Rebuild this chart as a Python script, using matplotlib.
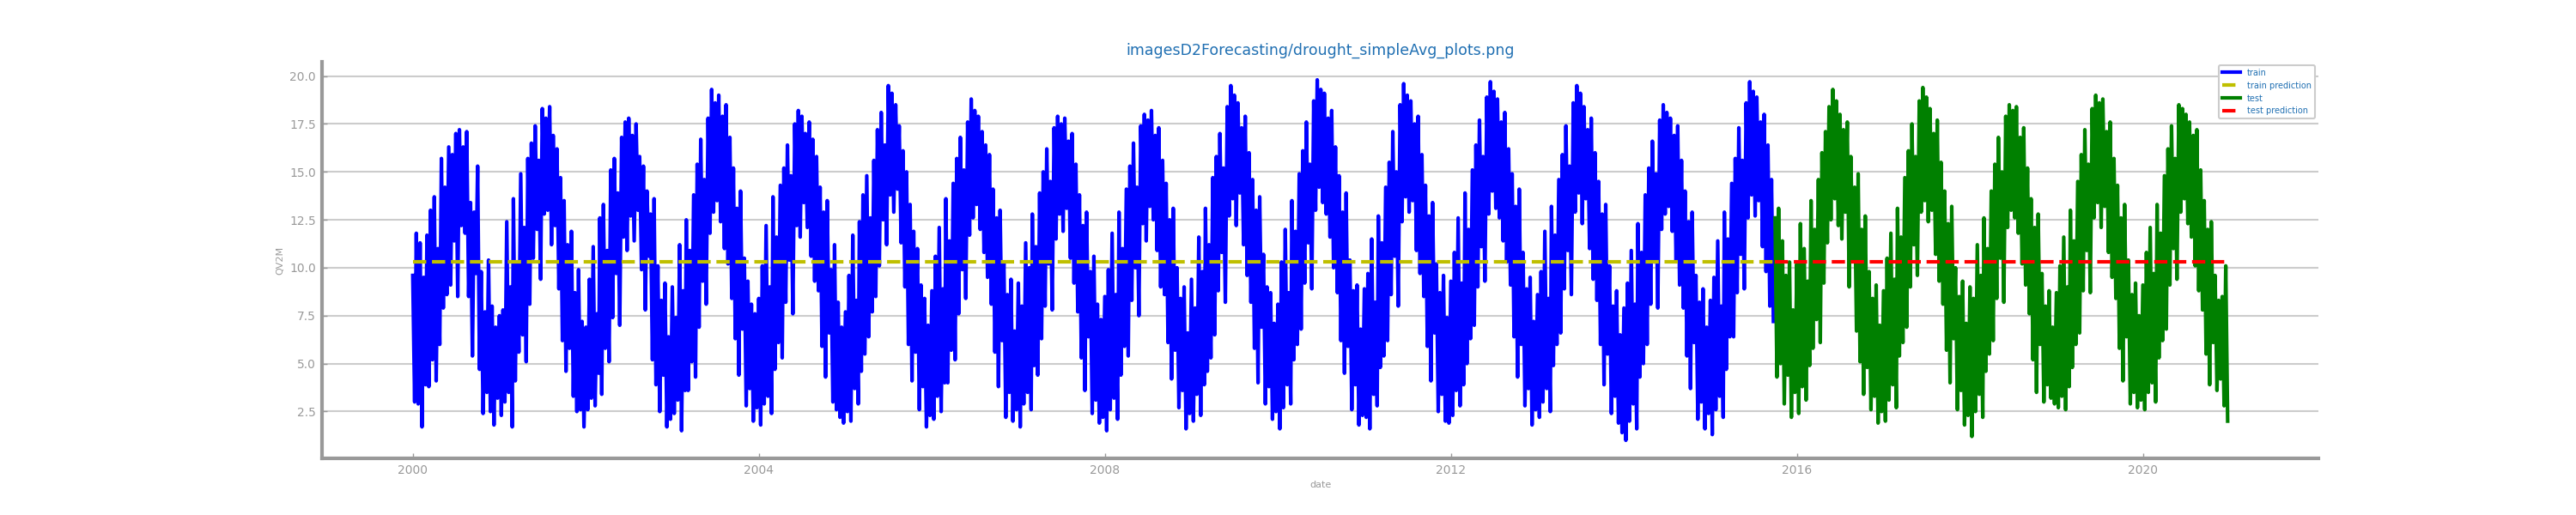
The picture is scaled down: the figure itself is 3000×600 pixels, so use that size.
#!/usr/bin/env python3
"""Simple-average forecast of QV2M: train/test series with flat predictions."""
import matplotlib
matplotlib.use("Agg")
import matplotlib.pyplot as plt
import matplotlib.dates as mdates
import numpy as np
import pandas as pd

TITLE = "imagesD2Forecasting/drought_simpleAvg_plots.png"
TEXT_BLUE = "#1f6fb2"
GREY = "#999999"

# four samples per month, 2000-01 .. 2020-12
YEARS = list(range(2000, 2021))
SAMPLE_DAYS = [1, 9, 16, 24]
N_TRAIN = 756  # up to 2015-09-24, the rest is test

# QV2M, one row per year (Jan..Jun / Jul..Dec)
qv2m_train = [
    9.6, 3.0, 11.8, 2.9, 11.3, 1.7, 9.5, 3.9, 11.7, 3.8, 13.0, 5.2, 13.7, 4.1, 11.0, 6.0, 15.7, 7.9, 14.2, 8.6, 16.3, 9.1, 15.9, 11.4,
    17.0, 8.5, 17.2, 12.2, 16.3, 11.8, 17.1, 8.5, 13.4, 5.4, 12.9, 9.7, 15.3, 4.7, 9.8, 2.4, 7.7, 3.5, 10.4, 2.5, 8.0, 1.8, 6.9, 3.2,  # 2000
    7.5, 2.3, 7.8, 3.0, 12.4, 3.5, 9.0, 1.7, 13.6, 4.1, 10.2, 5.6, 14.9, 6.5, 12.1, 5.1, 15.7, 8.1, 16.5, 10.5, 17.4, 12.0, 15.6, 9.4,
    18.3, 12.8, 17.8, 13.0, 18.4, 11.2, 16.9, 12.2, 16.2, 8.9, 14.7, 6.2, 13.5, 4.6, 11.2, 5.8, 11.9, 3.3, 8.7, 2.5, 9.9, 2.6, 7.2, 1.7,  # 2001
    6.9, 2.6, 9.4, 3.2, 11.1, 2.8, 7.6, 4.5, 12.6, 3.4, 13.3, 5.8, 10.9, 5.1, 15.1, 7.4, 15.7, 9.7, 13.9, 7.0, 16.8, 11.6, 17.6, 10.9,
    17.8, 12.7, 16.9, 11.4, 17.5, 13.0, 15.8, 9.9, 15.3, 7.8, 14.0, 10.6, 12.8, 5.2, 13.6, 3.9, 10.1, 2.5, 8.3, 4.4, 9.2, 1.7, 6.4, 2.1,  # 2002
    9.0, 2.4, 7.4, 3.1, 11.2, 1.5, 8.8, 3.6, 12.5, 3.6, 10.9, 5.1, 13.8, 4.3, 15.4, 6.9, 16.7, 9.3, 14.6, 8.1, 17.8, 11.8, 19.3, 12.9,
    18.6, 13.5, 19.0, 12.4, 17.9, 11.0, 18.5, 10.2, 16.8, 8.4, 15.2, 6.3, 13.1, 4.4, 14.0, 6.8, 10.5, 2.8, 9.3, 3.7, 8.1, 2.0, 7.6, 2.7,  # 2003
    8.4, 1.8, 10.1, 2.9, 12.2, 3.3, 9.0, 2.4, 13.7, 4.7, 11.6, 6.1, 14.3, 5.3, 15.2, 8.2, 16.4, 10.4, 14.8, 7.6, 17.5, 12.2, 18.2, 11.6,
    17.9, 13.4, 17.0, 12.1, 17.6, 10.6, 16.7, 9.3, 15.8, 8.8, 14.2, 5.9, 12.9, 4.3, 13.5, 6.6, 9.9, 3.0, 11.2, 2.6, 8.2, 2.2, 6.9, 1.9,  # 2004
    7.7, 2.5, 9.6, 2.0, 11.7, 3.7, 8.3, 2.9, 12.4, 4.6, 13.8, 5.5, 14.8, 6.4, 12.6, 7.7, 15.6, 8.5, 17.2, 10.1, 18.1, 12.5, 16.4, 11.2,
    19.5, 13.8, 19.1, 12.9, 18.5, 14.1, 17.4, 11.3, 16.1, 9.0, 15.0, 6.0, 13.3, 4.1, 11.9, 5.6, 11.0, 2.6, 9.1, 3.8, 8.4, 1.7, 7.0, 2.3,  # 2005
    8.8, 2.1, 10.6, 3.3, 12.1, 2.5, 8.9, 4.0, 13.6, 4.0, 11.4, 5.7, 14.4, 5.2, 15.7, 7.6, 16.8, 9.9, 15.1, 8.4, 17.6, 11.7, 18.8, 12.6,
    18.2, 13.3, 17.9, 12.0, 17.1, 10.8, 16.4, 9.5, 15.9, 8.1, 14.1, 5.6, 12.6, 3.8, 13.0, 6.2, 10.3, 2.2, 8.6, 3.5, 9.4, 2.0, 6.7, 2.6,  # 2006
    9.2, 1.7, 8.0, 2.9, 11.3, 3.5, 10.0, 2.6, 12.8, 4.9, 11.1, 4.4, 13.9, 6.3, 15.0, 8.0, 16.2, 10.2, 14.5, 7.8, 17.3, 11.5, 17.9, 12.8,
    17.5, 11.9, 17.8, 13.1, 16.6, 10.5, 17.0, 9.2, 15.4, 7.7, 13.8, 5.3, 12.2, 3.6, 12.9, 6.4, 9.8, 2.4, 10.6, 3.1, 8.1, 1.9, 7.3, 2.2,  # 2007
    8.5, 1.5, 9.9, 2.6, 11.8, 3.2, 8.6, 2.1, 12.9, 4.4, 11.0, 5.9, 14.1, 5.4, 15.3, 8.3, 16.5, 10.0, 14.2, 7.5, 17.4, 12.3, 18.0, 11.4,
    17.7, 13.2, 18.2, 12.5, 16.9, 10.9, 17.3, 9.0, 15.6, 8.6, 14.4, 6.1, 12.5, 4.2, 13.1, 5.7, 10.0, 2.7, 8.4, 3.6, 9.0, 1.6, 6.6, 2.4,  # 2008
    9.4, 2.0, 7.9, 3.4, 11.6, 2.3, 9.8, 3.9, 13.1, 4.6, 11.2, 5.3, 14.7, 6.5, 15.8, 8.8, 17.0, 10.8, 15.2, 8.2, 18.4, 12.7, 19.5, 13.6,
    19.0, 12.2, 18.6, 13.9, 17.3, 11.2, 17.9, 9.6, 16.0, 8.2, 14.6, 5.8, 13.0, 4.0, 13.7, 6.9, 10.7, 2.9, 9.0, 3.8, 8.7, 2.1, 7.1, 2.5,  # 2009
    8.1, 1.6, 10.3, 2.7, 12.0, 3.9, 8.7, 2.9, 13.5, 5.2, 11.9, 6.0, 14.9, 6.8, 16.1, 9.2, 17.6, 11.3, 15.4, 8.9, 18.7, 13.0, 19.8, 14.2,
    19.3, 13.4, 19.1, 12.8, 17.8, 11.6, 18.2, 10.0, 16.3, 8.7, 14.8, 6.2, 12.9, 4.5, 13.9, 5.9, 10.4, 2.6, 8.8, 3.9, 9.1, 1.8, 6.8, 2.3,  # 2010
    8.9, 2.2, 9.7, 1.6, 11.5, 3.4, 8.2, 2.8, 12.7, 4.8, 11.3, 5.4, 14.2, 6.2, 15.5, 8.6, 17.1, 10.6, 15.0, 8.0, 18.5, 12.4, 19.6, 13.7,
    19.0, 12.9, 18.7, 13.5, 17.5, 10.9, 17.9, 9.7, 15.9, 8.5, 14.3, 5.9, 12.7, 4.1, 13.4, 6.6, 10.2, 2.5, 8.7, 3.4, 9.6, 2.0, 7.4, 1.9,  # 2011
    9.3, 2.3, 10.8, 3.6, 12.6, 2.8, 9.2, 3.9, 13.9, 5.0, 12.0, 6.3, 15.1, 7.0, 16.4, 9.0, 17.7, 11.1, 15.8, 9.3, 18.9, 12.8, 19.7, 14.0,
    19.2, 13.1, 18.8, 12.6, 17.6, 11.4, 18.1, 10.3, 16.2, 9.1, 14.9, 6.4, 13.2, 4.3, 14.1, 6.0, 10.8, 2.8, 8.9, 3.7, 9.5, 1.8, 7.2, 2.6,  # 2012
    8.6, 2.2, 9.8, 3.0, 11.9, 3.7, 8.4, 2.5, 13.2, 4.9, 11.7, 6.0, 14.6, 6.6, 15.9, 8.9, 17.4, 10.9, 15.3, 8.6, 18.6, 12.9, 19.5, 13.9,
    19.1, 12.3, 18.4, 13.6, 17.2, 11.0, 17.8, 9.4, 16.0, 8.3, 14.5, 6.0, 12.8, 3.9, 13.3, 5.5, 10.1, 2.4, 8.0, 3.3, 8.8, 1.9, 6.5, 1.4,  # 2013
    7.9, 1.0, 9.2, 2.0, 10.9, 2.9, 8.1, 1.6, 12.3, 4.3, 10.8, 5.0, 13.8, 6.0, 15.2, 8.1, 16.6, 10.3, 14.9, 7.9, 17.7, 12.0, 18.5, 12.8,
    18.1, 13.2, 17.8, 11.9, 16.9, 10.4, 17.4, 9.1, 15.6, 7.9, 14.0, 5.4, 12.4, 3.7, 12.9, 6.1, 9.6, 2.1, 8.2, 3.0, 8.9, 1.6, 6.9, 2.4,  # 2014
    8.3, 1.3, 9.5, 2.6, 11.4, 3.3, 8.0, 2.2, 12.9, 4.7, 11.5, 6.4, 14.4, 6.4, 15.7, 8.7, 17.3, 10.7, 15.6, 8.9, 18.6, 12.6, 19.7, 13.8,
    19.2, 12.7, 18.9, 13.5, 17.6, 11.1, 18.0, 9.8, 16.4, 8.0, 14.6, 7.2,                                                            # 2015 Jan-Sep
]

qv2m_test = [
    12.6, 4.3, 13.1, 5.0, 11.4, 2.9, 9.6, 4.4, 10.3, 2.2, 7.8, 3.5,                                                                  # 2015 Oct-Dec
    10.2, 2.4, 12.3, 3.8, 11.0, 3.1, 9.3, 4.9, 13.5, 5.8, 12.0, 7.3, 14.6, 6.1, 16.0, 9.2, 17.1, 11.3, 18.4, 12.5, 19.3, 13.6, 18.7, 12.2,
    18.0, 11.5, 17.2, 12.9, 17.6, 9.0, 15.8, 10.4, 14.2, 6.7, 14.9, 5.1, 12.0, 3.4, 12.7, 4.8, 9.8, 2.6, 8.4, 3.3, 9.1, 1.9, 7.0, 2.5,  # 2016
    8.8, 2.0, 10.5, 3.1, 11.8, 3.9, 9.4, 2.7, 13.1, 5.4, 11.6, 6.1, 14.7, 6.9, 16.1, 9.0, 17.5, 11.2, 15.8, 9.6, 18.7, 12.9, 19.4, 13.5,
    18.9, 12.4, 18.3, 13.0, 17.0, 10.7, 17.7, 9.3, 15.5, 8.1, 14.0, 5.7, 12.3, 4.0, 13.2, 6.3, 10.0, 2.6, 8.5, 3.6, 9.3, 1.8, 7.1, 2.3,  # 2017
    9.0, 1.2, 8.4, 2.5, 11.2, 3.4, 9.6, 2.2, 12.6, 4.6, 11.0, 5.5, 14.0, 6.2, 15.4, 8.4, 16.8, 10.5, 15.0, 8.2, 17.9, 12.1, 18.5, 13.0,
    18.2, 12.6, 18.4, 11.8, 16.8, 10.2, 17.3, 9.1, 15.2, 7.6, 13.6, 5.2, 12.1, 3.5, 12.8, 6.0, 9.7, 3.0, 8.0, 3.9, 8.8, 3.2, 6.9, 2.9,  # 2018
    8.7, 2.7, 10.1, 3.3, 11.6, 2.6, 9.0, 3.8, 13.0, 4.8, 11.4, 6.0, 14.5, 6.6, 15.9, 8.8, 17.2, 10.9, 15.4, 8.7, 18.3, 12.6, 19.0, 13.4,
    18.6, 12.1, 18.8, 13.2, 17.1, 10.8, 17.6, 9.5, 15.7, 8.4, 14.3, 5.8, 12.6, 4.1, 13.3, 6.4, 10.4, 2.9, 8.6, 3.5, 9.2, 2.7, 7.5, 3.1,  # 2019
    9.1, 2.6, 10.8, 3.5, 12.1, 4.0, 9.7, 3.0, 13.3, 5.3, 11.8, 6.2, 14.8, 6.8, 16.2, 9.1, 17.4, 11.0, 15.7, 9.4, 18.5, 12.9, 18.3, 13.6,
    18.0, 12.3, 17.6, 11.6, 16.9, 10.1, 17.2, 8.8, 15.1, 7.8, 13.5, 5.5, 12.0, 3.9, 12.4, 6.1, 9.6, 3.6, 8.3, 4.2, 8.5, 2.8, 10.1, 2.0,  # 2020
]

# simple average forecast level (flat line)
avg_prediction = 10.31


def main():
    dates = pd.to_datetime([f"{y}-{m:02d}-{d:02d}"
                            for y in YEARS for m in range(1, 13) for d in SAMPLE_DAYS])
    train_dates = dates[:N_TRAIN]
    test_dates = dates[N_TRAIN:]

    fig, ax = plt.subplots(figsize=(30, 6), dpi=100)

    ax.plot(train_dates, qv2m_train, color="blue", lw=3, label="train")
    ax.plot(train_dates, np.full(len(train_dates), avg_prediction), "y--", lw=3,
            label="train prediction")
    ax.plot(test_dates, qv2m_test, color="green", lw=3, label="test")
    ax.plot(test_dates, np.full(len(test_dates), avg_prediction), "r--", lw=3,
            label="test prediction")

    ax.xaxis.set_major_locator(mdates.YearLocator(4))
    ax.xaxis.set_major_formatter(mdates.DateFormatter("%Y"))

    ax.grid(axis="y", color="#cccccc", lw=1.5)
    ax.set_axisbelow(True)
    for side in ("top", "right"):
        ax.spines[side].set_visible(False)
    for side in ("left", "bottom"):
        ax.spines[side].set_color(GREY)
        ax.spines[side].set_linewidth(3)
    ax.tick_params(colors=GREY, labelsize=10, direction="in", length=4, width=1, pad=5)

    ax.set_xlabel("date", fontsize=8, color=GREY)
    ax.set_ylabel("QV2M", fontsize=8, color=GREY)
    ax.set_title(TITLE, fontsize=12.5, color=TEXT_BLUE)

    # handle just long enough for one dash of the dashed entries
    leg = ax.legend(loc="upper right", fontsize=7, handlelength=2.2,
                    framealpha=1.0, edgecolor="#cccccc", borderaxespad=0.4)
    leg.get_frame().set_linewidth(1.5)
    for txt in leg.get_texts():
        txt.set_color(TEXT_BLUE)

    fig.savefig("out.png")


if __name__ == "__main__":
    main()
